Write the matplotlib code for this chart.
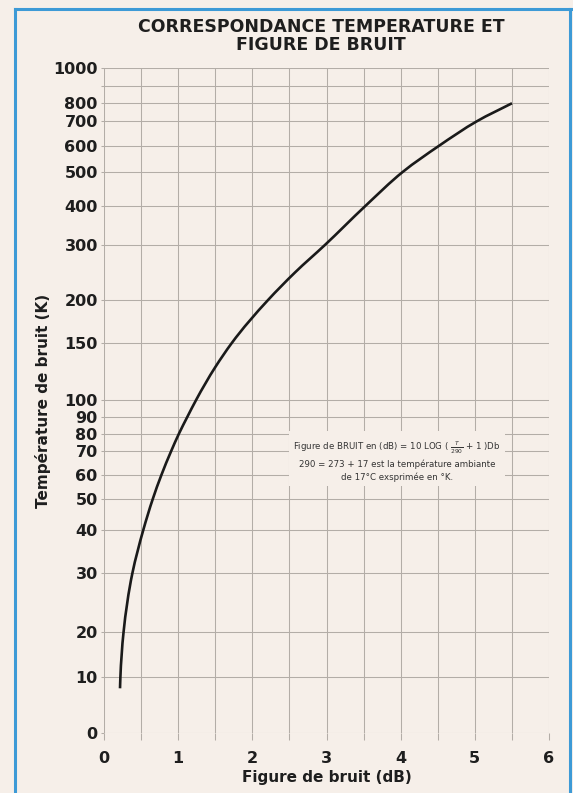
import numpy as np
import matplotlib
matplotlib.use("Agg")
import matplotlib.pyplot as plt
from matplotlib.ticker import FixedLocator, NullFormatter
from matplotlib.path import Path
from matplotlib.patches import PathPatch
from matplotlib.transforms import IdentityTransform

# ---- data ----
noise_figure_db = [0.216, 0.221, 0.264, 0.384, 0.529, 0.658, 0.774, 0.906,
                   1.010, 1.122, 1.243, 1.501, 1.720, 2.211, 2.575, 2.980,
                   3.519, 4.031, 4.517, 5.029, 5.501]
noise_temp_k = [8, 10, 20, 30, 40, 50, 60, 70,
                80, 90, 100, 129, 150, 200, 250, 300,
                400, 500, 600, 700, 800]

y_tick_values = [0, 10, 20, 30, 40, 50, 60, 70, 80, 90, 100, 150, 200,
                 300, 400, 500, 600, 700, 800, 900, 1000]
y_tick_labels = ["0", "10", "20", "30", "40", "50", "60", "70", "80", "90",
                 "100", "150", "200", "300", "400", "500", "600", "700",
                 "800", "", "1000"]
x_tick_values = [0, 1, 2, 3, 4, 5, 6]
x_tick_labels = ["0", "1", "2", "3", "4", "5", "6"]
x_minor_values = [0.5, 1.5, 2.5, 3.5, 4.5, 5.5]

# non-uniform (hand-drawn) temperature scale of the chart: fraction of axis height
y_scale_frac = [0.0, 0.084, 0.152, 0.241, 0.305, 0.352, 0.388, 0.424, 0.450,
                0.475, 0.501, 0.586, 0.651, 0.734, 0.792, 0.844, 0.883,
                0.920, 0.947, 0.973, 1.0]


def fwd(v):
    return np.interp(v, y_tick_values, y_scale_frac)


def inv(p):
    return np.interp(p, y_scale_frac, y_tick_values)


BG = "#f6efe9"
GRID = "#b3ada7"
TXT = "#1e1e1e"
FONT = "DejaVu Sans"

fig = plt.figure(figsize=(5.73, 7.93), dpi=100, facecolor=BG)
ax = fig.add_axes([104/573, 1 - 733/793, 445/573, 665/793])
ax.set_facecolor(BG)
ax.set_yscale("function", functions=(fwd, inv))
ax.set_xlim(0, 6)
ax.set_ylim(0, 1000)

for s in ax.spines.values():
    s.set_visible(False)

ax.xaxis.set_major_locator(FixedLocator(x_tick_values))
ax.xaxis.set_minor_locator(FixedLocator(x_minor_values))
ax.set_xticklabels(x_tick_labels)
ax.xaxis.set_minor_formatter(NullFormatter())
ax.yaxis.set_major_locator(FixedLocator(y_tick_values))
ax.yaxis.set_minor_locator(FixedLocator([]))
ax.set_yticklabels(y_tick_labels)

ax.grid(True, which="both", color=GRID, lw=0.75)
ax.tick_params(axis="x", which="both", length=5, width=0.75, color=GRID,
               direction="out", pad=8)
ax.tick_params(axis="y", which="both", length=2.5, width=0.75, color=GRID,
               direction="out", pad=2)
for lab in ax.get_xticklabels() + ax.get_yticklabels():
    lab.set_fontfamily(FONT)
    lab.set_fontweight("bold")
    lab.set_fontsize(11.5)
    lab.set_color(TXT)

# smooth curve through the read points (chord-weighted cubic, display space)
pts = ax.transData.transform(np.column_stack([noise_figure_db, noise_temp_k]))
n = len(pts)
d = np.linalg.norm(np.diff(pts, axis=0), axis=1)
tang = np.zeros_like(pts)
for i in range(n):
    if i == 0:
        tang[i] = (pts[1] - pts[0]) / d[0]
    elif i == n - 1:
        tang[i] = (pts[-1] - pts[-2]) / d[-1]
    else:
        a = (pts[i] - pts[i - 1]) / d[i - 1]
        b = (pts[i + 1] - pts[i]) / d[i]
        tang[i] = (a * d[i] + b * d[i - 1]) / (d[i - 1] + d[i])
verts = [pts[0]]
codes = [Path.MOVETO]
for i in range(n - 1):
    c1 = pts[i] + tang[i] * d[i] / 3.0
    c2 = pts[i + 1] - tang[i + 1] * d[i] / 3.0
    verts += [c1, c2, pts[i + 1]]
    codes += [Path.CURVE4] * 3
curve = PathPatch(Path(verts, codes), transform=IdentityTransform(),
                  fill=False, ec="#1a1a1a", lw=1.9, capstyle="butt", zorder=5)
ax.add_artist(curve)

ax.set_xlabel("Figure de bruit (dB)", fontfamily=FONT, fontweight="bold",
              fontsize=11, color=TXT, labelpad=3)
ax.set_ylabel("Température de bruit (K)", fontfamily=FONT, fontweight="bold",
              fontsize=11, color=TXT)
ax.yaxis.set_label_coords(-0.118, 0.5)

fig.text(0.56, 1 - 35.5/793, "CORRESPONDANCE TEMPERATURE ET\nFIGURE DE BRUIT",
         ha="center", va="center", fontfamily=FONT, fontweight="bold",
         fontsize=12.5, color=TXT, linespacing=1.0)

# annotation box with the formula
ax.text(3.95, 66,
        "Figure de BRUIT en (dB) = 10 LOG ( $\\frac{T}{290}$ + 1 )Db\n"
        "290 = 273 + 17 est la température ambiante\n"
        "de 17°C exsprimée en °K.",
        ha="center", va="center", fontsize=6.2, color="#333333",
        fontfamily=FONT, linespacing=1.5, zorder=6,
        bbox=dict(boxstyle="square,pad=0.5", fc=BG, ec="none"))

# blue frame of the page
blue = "#3d9ad6"
fig.add_artist(plt.Line2D([15/573, 15/573], [0, 1 - 9/793],
                          transform=fig.transFigure, color=blue, lw=2.2))
fig.add_artist(plt.Line2D([15/573, 1], [1 - 9/793, 1 - 9/793],
                          transform=fig.transFigure, color=blue, lw=2.2))
fig.add_artist(plt.Line2D([570/573, 570/573], [0, 1 - 9/793],
                          transform=fig.transFigure, color=blue, lw=2.2))

fig.savefig("out.png", dpi=100, facecolor=BG)
